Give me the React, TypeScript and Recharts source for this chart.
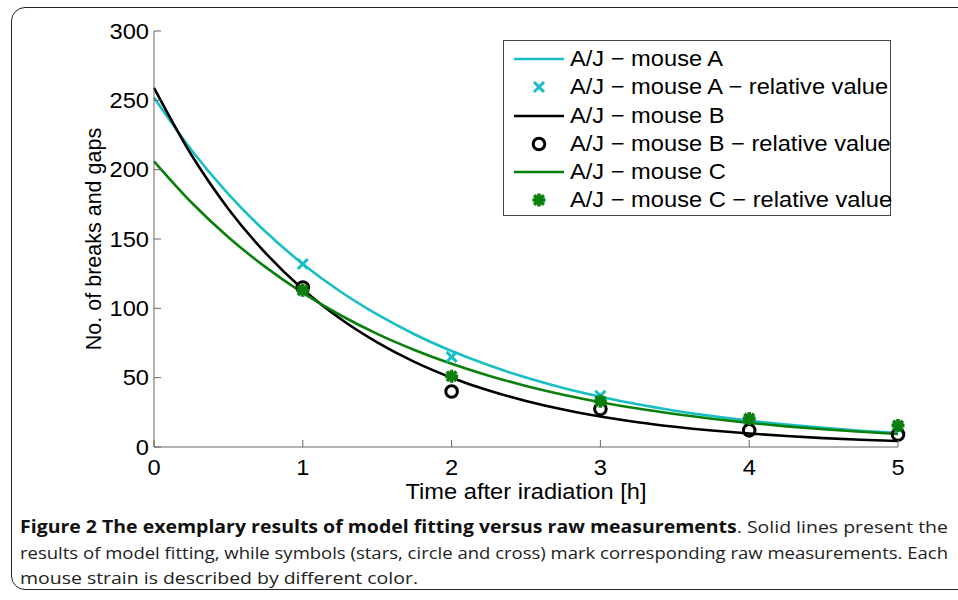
import React from "react";
import { ComposedChart, Line, Scatter, XAxis, YAxis, Legend } from "recharts";

// fitted curves, every quarter hour
const fitTimes = [0, 0.25, 0.5, 0.75, 1, 1.25, 1.5, 1.75, 2, 2.25, 2.5, 2.75, 3, 3.25, 3.5, 3.75, 4, 4.25, 4.5, 4.75, 5];
const fitMouseA = [252, 214.4, 182.4, 155.2, 132.0, 112.3, 95.6, 81.3, 69.2, 58.9, 50.1, 42.6, 36.3, 30.8, 26.2, 22.3, 19.0, 16.2, 13.8, 11.7, 10.0];
const fitMouseB = [259, 210.9, 171.7, 139.8, 113.8, 92.7, 75.5, 61.4, 50.0, 40.7, 33.2, 27.0, 22.0, 17.9, 14.6, 11.9, 9.7, 7.9, 6.4, 5.2, 4.3];
const fitMouseC = [206, 176.5, 151.3, 129.7, 111.1, 95.2, 81.6, 70.0, 60.0, 51.4, 44.0, 37.7, 32.3, 27.7, 23.8, 20.4, 17.4, 14.9, 12.8, 11.0, 9.4];

// raw measurements
const measTimes = [1, 2, 3, 4, 5];
const measMouseA = [132, 65, 37, 19, 14];
const measMouseB = [115, 40, 27.5, 12, 9];
const measMouseC = [113, 51, 33, 20.5, 15.5];

const xTicks = [0, 1, 2, 3, 4, 5];
const yTicks = [0, 50, 100, 150, 200, 250, 300];

const legendLabels = [
  "A/J \u2212 mouse A",
  "A/J \u2212 mouse A \u2212 relative value",
  "A/J \u2212 mouse B",
  "A/J \u2212 mouse B \u2212 relative value",
  "A/J \u2212 mouse C",
  "A/J \u2212 mouse C \u2212 relative value",
];

const CYAN = "#17bfc4";
const BLACK = "#000000";
const GREEN = "#0b7f0b";
const AXIS = "#666";
const FONT = "'Liberation Sans', Arial, Helvetica, sans-serif";
const CAPTION_FONT = "'Open Sans', sans-serif";
const FS = 21.5;
const SX = 1.1; // the original figure is a bit stretched horizontally

const fitRows = fitTimes.map((t, i) => ({ t, a: fitMouseA[i], b: fitMouseB[i], c: fitMouseC[i] }));
const toPoints = (vals: number[]) => measTimes.map((t, i) => ({ t, v: vals[i] }));

const Cross = ({ cx, cy }: any) => (
  <g stroke={CYAN} strokeWidth={3}>
    <line x1={cx - 5} y1={cy - 5} x2={cx + 5} y2={cy + 5} />
    <line x1={cx - 5} y1={cy + 5} x2={cx + 5} y2={cy - 5} />
  </g>
);

const Ring = ({ cx, cy }: any) => (
  <circle cx={cx} cy={cy} r={5.8} fill="none" stroke={BLACK} strokeWidth={3} />
);

const Star = ({ cx, cy }: any) => (
  <g stroke={GREEN} strokeWidth={3.6}>
    <line x1={cx - 6.5} y1={cy} x2={cx + 6.5} y2={cy} />
    <line x1={cx} y1={cy - 6.5} x2={cx} y2={cy + 6.5} />
    <line x1={cx - 4.8} y1={cy - 4.8} x2={cx + 4.8} y2={cy + 4.8} />
    <line x1={cx - 4.8} y1={cy + 4.8} x2={cx + 4.8} y2={cy - 4.8} />
  </g>
);

const AxisText = ({ x, y, anchor, children }: any) => (
  <text transform={`translate(${x} ${y}) scale(${SX} 1)`} textAnchor={anchor} fontSize={FS} fontFamily={FONT} fill="#000">
    {children}
  </text>
);

const BottomTick = ({ x, y, payload }: any) => (
  <g>
    <line x1={x} y1={y} x2={x} y2={y - 7} stroke={AXIS} />
    <AxisText x={x} y={y + 28} anchor="middle">{payload.value}</AxisText>
  </g>
);

const TopTick = ({ x, y }: any) => <line x1={x} y1={y} x2={x} y2={y + 7} stroke={AXIS} />;

const LeftTick = ({ x, y, payload }: any) => (
  <g>
    <line x1={x} y1={y} x2={x + 7} y2={y} stroke={AXIS} />
    <AxisText x={x - 5} y={y + 7.7} anchor="end">{payload.value}</AxisText>
  </g>
);

const RightTick = ({ x, y }: any) => <line x1={x} y1={y} x2={x - 7} y2={y} stroke={AXIS} />;

const YTitle = ({ viewBox }: any) => {
  const cx = viewBox.x + 93;
  const cy = viewBox.y + viewBox.height / 2;
  return (
    <text x={cx} y={cy} transform={`rotate(-90 ${cx} ${cy})`} textAnchor="middle" dy={7.7} fontSize={FS} fontFamily={FONT} fill="#000">
      No. of breaks and gaps
    </text>
  );
};

const XTitle = ({ viewBox }: any) => (
  <AxisText x={viewBox.x + viewBox.width / 2} y={viewBox.y + 52} anchor="middle">
    Time after iradiation [h]
  </AxisText>
);

const LegendBox = () => {
  const symbols = [
    <line x1={10} y1={14} x2={60} y2={14} stroke={CYAN} strokeWidth={2.6} />,
    <Cross cx={35} cy={14} />,
    <line x1={10} y1={14} x2={60} y2={14} stroke={BLACK} strokeWidth={2.6} />,
    <Ring cx={35} cy={14} />,
    <line x1={10} y1={14} x2={60} y2={14} stroke={GREEN} strokeWidth={2.6} />,
    <Star cx={35} cy={14} />,
  ];
  return (
    <div
      style={{
        border: "1px solid #444",
        background: "#fff",
        boxSizing: "border-box",
        width: 388,
        height: 176,
        paddingTop: 4,
      }}
    >
      {legendLabels.map((label, i) => (
        <div key={label} style={{ position: "relative", height: 28.3 }}>
          <svg width={64} height={28} style={{ position: "absolute", left: 0, top: 0 }}>
            {symbols[i]}
          </svg>
          <span
            style={{
              position: "absolute",
              left: 66,
              top: 0,
              lineHeight: "28px",
              fontSize: FS,
              fontFamily: FONT,
              color: "#000",
              whiteSpace: "nowrap",
              transform: `scaleX(${SX})`,
              transformOrigin: "left center",
            }}
          >
            {label}
          </span>
        </div>
      ))}
    </div>
  );
};

export default function App() {
  return (
    <div style={{ position: "absolute", left: 0, top: 0, width: 958, height: 600, background: "#fff", overflow: "hidden" }}>
      <div
        style={{
          position: "absolute",
          left: 11,
          top: 7,
          width: 980,
          height: 583,
          border: "1.5px solid #222",
          borderRadius: 14,
          boxSizing: "border-box",
        }}
      />
      <div style={{ position: "absolute", left: 0, top: 0 }}>
        <ComposedChart width={958} height={510} data={fitRows} margin={{ top: 31, right: 60, left: 0, bottom: 23 }}>
          <XAxis
            dataKey="t"
            type="number"
            domain={[0, 5]}
            ticks={xTicks}
            height={40}
            stroke={AXIS}
            tickLine={false}
            tickSize={0}
            tickMargin={0}
            tick={<BottomTick />}
            label={<XTitle />}
          />
          <XAxis
            xAxisId="top"
            orientation="top"
            dataKey="t"
            type="number"
            domain={[0, 5]}
            ticks={xTicks}
            height={0}
            stroke={AXIS}
            tickLine={false}
            tickSize={0}
            tickMargin={0}
            tick={<TopTick />}
          />
          <YAxis
            type="number"
            domain={[0, 300]}
            ticks={yTicks}
            width={154}
            stroke={AXIS}
            tickLine={false}
            tickSize={0}
            tickMargin={0}
            tick={<LeftTick />}
            label={<YTitle />}
          />
          <YAxis
            yAxisId="r"
            orientation="right"
            type="number"
            domain={[0, 300]}
            ticks={yTicks}
            width={0}
            stroke={AXIS}
            tickLine={false}
            tickSize={0}
            tickMargin={0}
            tick={<RightTick />}
          />
          <Legend layout="vertical" align="center" verticalAlign="middle" content={() => <LegendBox />} wrapperStyle={{ left: 503, top: 40, width: 388, height: 176 }} />
          <Line type="monotone" dataKey="a" stroke={CYAN} strokeWidth={2.6} dot={false} isAnimationActive={false} />
          <Scatter data={toPoints(measMouseA)} dataKey="v" shape={<Cross />} isAnimationActive={false} />
          <Line type="monotone" dataKey="b" stroke={BLACK} strokeWidth={2.6} dot={false} isAnimationActive={false} />
          <Scatter data={toPoints(measMouseB)} dataKey="v" shape={<Ring />} isAnimationActive={false} />
          <Line type="monotone" dataKey="c" stroke={GREEN} strokeWidth={2.6} dot={false} isAnimationActive={false} />
          <Scatter data={toPoints(measMouseC)} dataKey="v" shape={<Star />} isAnimationActive={false} />
        </ComposedChart>
      </div>
      <svg width={958} height={90} style={{ position: "absolute", left: 0, top: 510 }}>
        <text x={20} y={23} textLength={928} lengthAdjust="spacingAndGlyphs" fontSize={17} fontFamily={CAPTION_FONT} fill="#222">
          <tspan fontWeight={700} fill="#111">Figure 2 The exemplary results of model fitting versus raw measurements</tspan>
          . Solid lines present the
        </text>
        <text x={20} y={49} textLength={928} lengthAdjust="spacingAndGlyphs" fontSize={17} fontFamily={CAPTION_FONT} fill="#222">
          results of model fitting, while symbols (stars, circle and cross) mark corresponding raw measurements. Each
        </text>
        <text x={20} y={74} textLength={398} lengthAdjust="spacingAndGlyphs" fontSize={17} fontFamily={CAPTION_FONT} fill="#222">
          mouse strain is described by different color.
        </text>
      </svg>
    </div>
  );
}
